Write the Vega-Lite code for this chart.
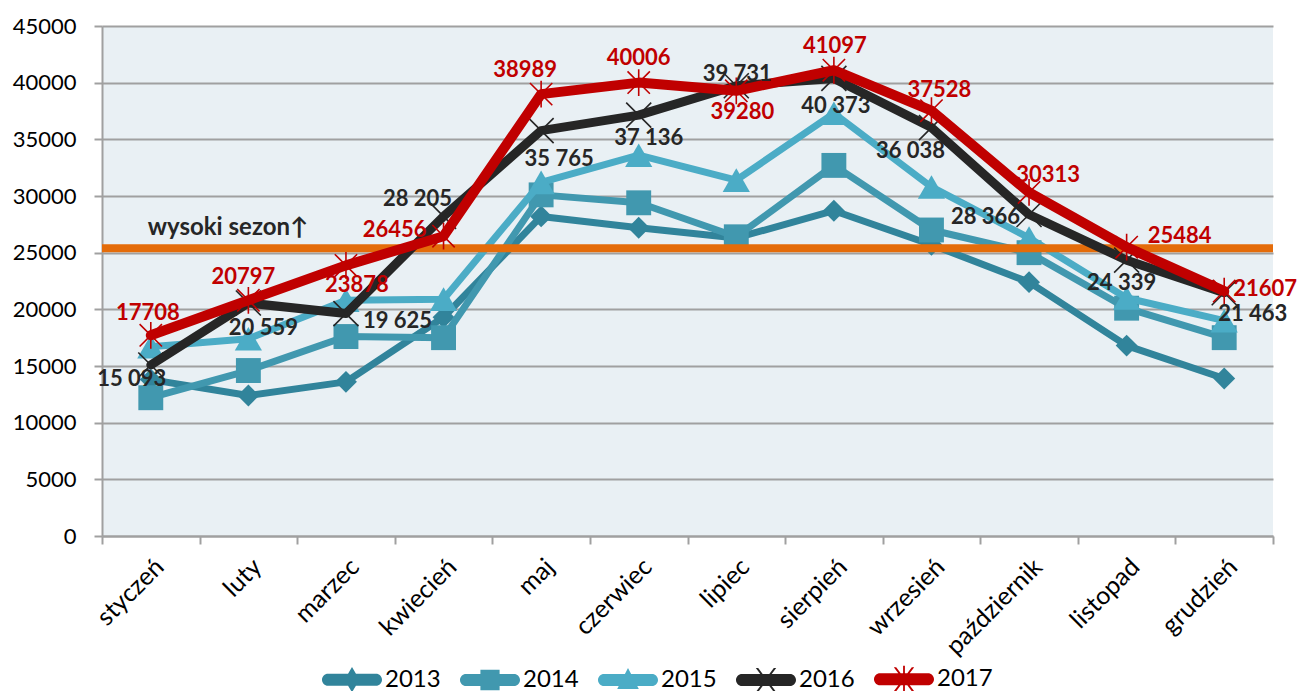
{
  "$schema": "https://vega.github.io/schema/vega-lite/v6.json",
  "width": 1171,
  "height": 510,
  "autosize": "none",
  "padding": {"left": 102, "top": 26, "right": 27, "bottom": 155},
  "background": "#ffffff",
  "data": {"values": [
    {"year": "2013", "month": "styczeń", "value": 13800},
    {"year": "2013", "month": "luty", "value": 12400},
    {"year": "2013", "month": "marzec", "value": 13600},
    {"year": "2013", "month": "kwiecień", "value": 19300},
    {"year": "2013", "month": "maj", "value": 28200},
    {"year": "2013", "month": "czerwiec", "value": 27200},
    {"year": "2013", "month": "lipiec", "value": 26300},
    {"year": "2013", "month": "sierpień", "value": 28700},
    {"year": "2013", "month": "wrzesień", "value": 25700},
    {"year": "2013", "month": "październik", "value": 22400},
    {"year": "2013", "month": "listopad", "value": 16800},
    {"year": "2013", "month": "grudzień", "value": 13900},
    {"year": "2014", "month": "styczeń", "value": 12200},
    {"year": "2014", "month": "luty", "value": 14600},
    {"year": "2014", "month": "marzec", "value": 17600},
    {"year": "2014", "month": "kwiecień", "value": 17500},
    {"year": "2014", "month": "maj", "value": 30100},
    {"year": "2014", "month": "czerwiec", "value": 29400},
    {"year": "2014", "month": "lipiec", "value": 26400},
    {"year": "2014", "month": "sierpień", "value": 32700},
    {"year": "2014", "month": "wrzesień", "value": 27000},
    {"year": "2014", "month": "październik", "value": 25000},
    {"year": "2014", "month": "listopad", "value": 20100},
    {"year": "2014", "month": "grudzień", "value": 17500},
    {"year": "2015", "month": "styczeń", "value": 16700},
    {"year": "2015", "month": "luty", "value": 17400},
    {"year": "2015", "month": "marzec", "value": 20800},
    {"year": "2015", "month": "kwiecień", "value": 20900},
    {"year": "2015", "month": "maj", "value": 31200},
    {"year": "2015", "month": "czerwiec", "value": 33600},
    {"year": "2015", "month": "lipiec", "value": 31400},
    {"year": "2015", "month": "sierpień", "value": 37300},
    {"year": "2015", "month": "wrzesień", "value": 30800},
    {"year": "2015", "month": "październik", "value": 26300},
    {"year": "2015", "month": "listopad", "value": 21000},
    {"year": "2015", "month": "grudzień", "value": 19000},
    {"year": "2016", "month": "styczeń", "value": 15093},
    {"year": "2016", "month": "luty", "value": 20559},
    {"year": "2016", "month": "marzec", "value": 19625},
    {"year": "2016", "month": "kwiecień", "value": 28205},
    {"year": "2016", "month": "maj", "value": 35765},
    {"year": "2016", "month": "czerwiec", "value": 37136},
    {"year": "2016", "month": "lipiec", "value": 39731},
    {"year": "2016", "month": "sierpień", "value": 40373},
    {"year": "2016", "month": "wrzesień", "value": 36038},
    {"year": "2016", "month": "październik", "value": 28366},
    {"year": "2016", "month": "listopad", "value": 24339},
    {"year": "2016", "month": "grudzień", "value": 21463},
    {"year": "2017", "month": "styczeń", "value": 17708},
    {"year": "2017", "month": "luty", "value": 20797},
    {"year": "2017", "month": "marzec", "value": 23878},
    {"year": "2017", "month": "kwiecień", "value": 26456},
    {"year": "2017", "month": "maj", "value": 38989},
    {"year": "2017", "month": "czerwiec", "value": 40006},
    {"year": "2017", "month": "lipiec", "value": 39280},
    {"year": "2017", "month": "sierpień", "value": 41097},
    {"year": "2017", "month": "wrzesień", "value": 37528},
    {"year": "2017", "month": "październik", "value": 30313},
    {"year": "2017", "month": "listopad", "value": 25484},
    {"year": "2017", "month": "grudzień", "value": 21607}
  ]},
  "layer": [
    {
      "encoding": {
        "x": {"field": "month", "type": "nominal", "title": null,
          "scale": {"type": "band", "domain": ["styczeń","luty","marzec","kwiecień","maj","czerwiec","lipiec","sierpień","wrzesień","październik","listopad","grudzień"], "paddingInner": 0, "paddingOuter": 0},
          "axis": {"tickBand": "extent", "labelAlign": "right", "labelBaseline": "top"}},
        "y": {"field": "value", "type": "quantitative", "title": null,
          "scale": {"domain": [0, 45000], "nice": false, "zero": true},
          "axis": {"values": [0,5000,10000,15000,20000,25000,30000,35000,40000,45000], "format": "d"}}
      },
      "layer": [
        {"transform": [{"filter": "datum.year=='2013'"}], "mark": {"type": "line", "color": "#31849B", "strokeWidth": 7, "strokeJoin": "round", "strokeCap": "round"}},
        {"transform": [{"filter": "datum.year=='2013'"}], "mark": {"type": "point", "shape": "diamond", "filled": true, "color": "#31849B", "size": 480, "opacity": 1}},
        {"transform": [{"filter": "datum.year=='2014'"}], "mark": {"type": "line", "color": "#4198AF", "strokeWidth": 7, "strokeJoin": "round", "strokeCap": "round"}},
        {"transform": [{"filter": "datum.year=='2014'"}], "mark": {"type": "point", "shape": "square", "filled": true, "color": "#4198AF", "size": 620, "opacity": 1}},
        {"transform": [{"filter": "datum.year=='2015'"}], "mark": {"type": "line", "color": "#4BACC6", "strokeWidth": 7, "strokeJoin": "round", "strokeCap": "round"}},
        {"transform": [{"filter": "datum.year=='2015'"}], "mark": {"type": "point", "shape": "triangle-up", "filled": true, "color": "#4BACC6", "size": 740, "opacity": 1}}
      ]
    },
    {
      "data": {"values": [{"threshold": 25400}]},
      "mark": {"type": "rule", "color": "#E46C0A", "strokeWidth": 8},
      "encoding": {
        "y": {"field": "threshold", "type": "quantitative", "title": null,
          "scale": {"domain": [0, 45000], "nice": false, "zero": true},
          "axis": {"values": [0,5000,10000,15000,20000,25000,30000,35000,40000,45000], "format": "d"}}
      }
    },
    {
      "encoding": {
        "x": {"field": "month", "type": "nominal", "title": null,
          "scale": {"type": "band", "domain": ["styczeń","luty","marzec","kwiecień","maj","czerwiec","lipiec","sierpień","wrzesień","październik","listopad","grudzień"], "paddingInner": 0, "paddingOuter": 0},
          "axis": {"tickBand": "extent", "labelAlign": "right", "labelBaseline": "top"}},
        "y": {"field": "value", "type": "quantitative", "title": null,
          "scale": {"domain": [0, 45000], "nice": false, "zero": true},
          "axis": {"values": [0,5000,10000,15000,20000,25000,30000,35000,40000,45000], "format": "d"}}
      },
      "layer": [
        {"transform": [{"filter": "datum.year=='2016'"}], "mark": {"type": "line", "color": "#262626", "strokeWidth": 9, "strokeJoin": "round", "strokeCap": "round"}},
        {"transform": [{"filter": "datum.year=='2016'"}], "mark": {"type": "point", "shape": "M-1,-1L1,1M-1,1L1,-1", "filled": false, "color": "#262626", "strokeWidth": 1.6, "size": 625, "opacity": 1}},
        {"transform": [{"filter": "datum.year=='2017'"}], "mark": {"type": "line", "color": "#C00000", "strokeWidth": 10, "strokeJoin": "round", "strokeCap": "round"}},
        {"transform": [{"filter": "datum.year=='2017'"}], "mark": {"type": "point", "shape": "M-1,-1L1,1M-1,1L1,-1M0,-1.2L0,1.2", "filled": false, "color": "#C00000", "strokeWidth": 1.6, "size": 500, "opacity": 1}},
        {
          "data": {"values": [{"month": "styczeń", "value": 25400, "label": "wysoki sezon↑"}]},
          "mark": {"type": "text", "align": "left", "baseline": "alphabetic", "dx": -3, "dy": -13, "fontSize": 24, "color": "#262626"},
          "encoding": {"text": {"field": "label"}}
        },
        {"transform": [{"filter": "datum.year=='2016'&&datum.month=='styczeń'"}], "mark": {"type": "text", "dx": -19, "dy": 14, "color": "#262626"}, "encoding": {"text": {"field": "value", "format": ",d"}}},
        {"transform": [{"filter": "datum.year=='2016'&&datum.month=='luty'"}], "mark": {"type": "text", "dx": 15, "dy": 25, "color": "#262626"}, "encoding": {"text": {"field": "value", "format": ",d"}}},
        {"transform": [{"filter": "datum.year=='2016'&&datum.month=='marzec'"}], "mark": {"type": "text", "align": "left", "dx": 17, "dy": 7, "color": "#262626"}, "encoding": {"text": {"field": "value", "format": ",d"}}},
        {"transform": [{"filter": "datum.year=='2016'&&datum.month=='kwiecień'"}], "mark": {"type": "text", "dx": -26, "dy": -17, "color": "#262626"}, "encoding": {"text": {"field": "value", "format": ",d"}}},
        {"transform": [{"filter": "datum.year=='2016'&&datum.month=='maj'"}], "mark": {"type": "text", "dx": 18, "dy": 28, "color": "#262626"}, "encoding": {"text": {"field": "value", "format": ",d"}}},
        {"transform": [{"filter": "datum.year=='2016'&&datum.month=='czerwiec'"}], "mark": {"type": "text", "dx": 10, "dy": 23, "color": "#262626"}, "encoding": {"text": {"field": "value", "format": ",d"}}},
        {"transform": [{"filter": "datum.year=='2016'&&datum.month=='lipiec'"}], "mark": {"type": "text", "dx": 1, "dy": -12, "color": "#262626"}, "encoding": {"text": {"field": "value", "format": ",d"}}},
        {"transform": [{"filter": "datum.year=='2016'&&datum.month=='sierpień'"}], "mark": {"type": "text", "dx": 2, "dy": 28, "color": "#262626"}, "encoding": {"text": {"field": "value", "format": ",d"}}},
        {"transform": [{"filter": "datum.year=='2016'&&datum.month=='wrzesień'"}], "mark": {"type": "text", "dx": -21, "dy": 23, "color": "#262626"}, "encoding": {"text": {"field": "value", "format": ",d"}}},
        {"transform": [{"filter": "datum.year=='2016'&&datum.month=='październik'"}], "mark": {"type": "text", "align": "right", "dx": -9, "dy": 2, "color": "#262626"}, "encoding": {"text": {"field": "value", "format": ",d"}}},
        {"transform": [{"filter": "datum.year=='2016'&&datum.month=='listopad'"}], "mark": {"type": "text", "dx": -5, "dy": 23, "color": "#262626"}, "encoding": {"text": {"field": "value", "format": ",d"}}},
        {"transform": [{"filter": "datum.year=='2016'&&datum.month=='grudzień'"}], "mark": {"type": "text", "align": "left", "dx": -6, "dy": 21, "color": "#262626"}, "encoding": {"text": {"field": "value", "format": ",d"}}},
        {"transform": [{"filter": "datum.year=='2017'&&datum.month=='styczeń'"}], "mark": {"type": "text", "dx": -3, "dy": -22, "color": "#C00000"}, "encoding": {"text": {"field": "value", "format": "d"}}},
        {"transform": [{"filter": "datum.year=='2017'&&datum.month=='luty'"}], "mark": {"type": "text", "dx": -5, "dy": -23, "color": "#C00000"}, "encoding": {"text": {"field": "value", "format": "d"}}},
        {"transform": [{"filter": "datum.year=='2017'&&datum.month=='marzec'"}], "mark": {"type": "text", "dx": 11, "dy": 20, "color": "#C00000"}, "encoding": {"text": {"field": "value", "format": "d"}}},
        {"transform": [{"filter": "datum.year=='2017'&&datum.month=='kwiecień'"}], "mark": {"type": "text", "align": "right", "dx": -17, "dy": -6, "color": "#C00000"}, "encoding": {"text": {"field": "value", "format": "d"}}},
        {"transform": [{"filter": "datum.year=='2017'&&datum.month=='maj'"}], "mark": {"type": "text", "dx": -16, "dy": -24, "color": "#C00000"}, "encoding": {"text": {"field": "value", "format": "d"}}},
        {"transform": [{"filter": "datum.year=='2017'&&datum.month=='czerwiec'"}], "mark": {"type": "text", "dx": 0, "dy": -25, "color": "#C00000"}, "encoding": {"text": {"field": "value", "format": "d"}}},
        {"transform": [{"filter": "datum.year=='2017'&&datum.month=='lipiec'"}], "mark": {"type": "text", "dx": 6, "dy": 21, "color": "#C00000"}, "encoding": {"text": {"field": "value", "format": "d"}}},
        {"transform": [{"filter": "datum.year=='2017'&&datum.month=='sierpień'"}], "mark": {"type": "text", "dx": 1, "dy": -24, "color": "#C00000"}, "encoding": {"text": {"field": "value", "format": "d"}}},
        {"transform": [{"filter": "datum.year=='2017'&&datum.month=='wrzesień'"}], "mark": {"type": "text", "dx": 8, "dy": -21, "color": "#C00000"}, "encoding": {"text": {"field": "value", "format": "d"}}},
        {"transform": [{"filter": "datum.year=='2017'&&datum.month=='październik'"}], "mark": {"type": "text", "dx": 19, "dy": -17, "color": "#C00000"}, "encoding": {"text": {"field": "value", "format": "d"}}},
        {"transform": [{"filter": "datum.year=='2017'&&datum.month=='listopad'"}], "mark": {"type": "text", "align": "left", "dx": 21, "dy": -11, "color": "#C00000"}, "encoding": {"text": {"field": "value", "format": "d"}}},
        {"transform": [{"filter": "datum.year=='2017'&&datum.month=='grudzień'"}], "mark": {"type": "text", "align": "left", "dx": 9, "dy": -2, "color": "#C00000"}, "encoding": {"text": {"field": "value", "format": "d"}}},
        {
          "transform": [{"filter": "false"}],
          "mark": {"type": "point", "filled": true, "opacity": 1},
          "encoding": {
            "color": {"field": "year", "type": "nominal",
              "scale": {"domain": ["2013","2014","2015","2016","2017"], "range": ["#31849B","#4198AF","#4BACC6","#262626","#C00000"]},
              "legend": {"title": null}},
            "shape": {"field": "year", "type": "nominal",
              "scale": {"domain": ["2013","2014","2015","2016","2017"], "range": [
                "M-0.8,-0.2L0.8,-0.2A0.2,0.2 0 0 1 0.8,0.2L-0.8,0.2A0.2,0.2 0 0 1 -0.8,-0.2ZM0,-0.42L0.25,0L0,0.42L-0.25,0Z",
                "M-0.8,-0.2L0.8,-0.2A0.2,0.2 0 0 1 0.8,0.2L-0.8,0.2A0.2,0.2 0 0 1 -0.8,-0.2ZM-0.32,-0.34L0.32,-0.34L0.32,0.34L-0.32,0.34Z",
                "M-0.8,-0.2L0.8,-0.2A0.2,0.2 0 0 1 0.8,0.2L-0.8,0.2A0.2,0.2 0 0 1 -0.8,-0.2ZM0,-0.4L0.36,0.3L-0.36,0.3Z",
                "M-0.8,-0.2L0.8,-0.2A0.2,0.2 0 0 1 0.8,0.2L-0.8,0.2A0.2,0.2 0 0 1 -0.8,-0.2ZM-0.34,-0.4L-0.26,-0.4L0.34,0.4L0.26,0.4ZM-0.34,0.4L0.26,-0.4L0.34,-0.4L-0.26,0.4Z",
                "M-0.8,-0.2L0.8,-0.2A0.2,0.2 0 0 1 0.8,0.2L-0.8,0.2A0.2,0.2 0 0 1 -0.8,-0.2ZM-0.34,-0.4L-0.26,-0.4L0.34,0.4L0.26,0.4ZM-0.34,0.4L0.26,-0.4L0.34,-0.4L-0.26,0.4ZM-0.03,-0.45L0.03,-0.45L0.03,0.45L-0.03,0.45Z"
              ]},
              "legend": {"title": null}}
          }
        }
      ]
    }
  ],
  "config": {
    "locale": {"number": {"decimal": ",", "thousands": " ", "grouping": [3], "currency": ["", " zł"]}},
    "font": "Lato",
    "view": {"fill": "#E9F0F4", "stroke": null},
    "axis": {"domainColor": "#A0A0A0", "domainWidth": 2, "tickColor": "#A0A0A0", "tickWidth": 2, "tickSize": 8,
      "labelFont": "Lato", "labelFontSize": 22, "labelColor": "#000000", "gridColor": "#A0A0A0", "gridWidth": 2},
    "axisX": {"grid": false, "labelAngle": -45, "labelPadding": 10, "labelFontSize": 25},
    "axisY": {"grid": true, "labelPadding": 18},
    "text": {"font": "Lato", "fontSize": 22, "fontWeight": "bold", "baseline": "middle", "align": "center"},
    "legend": {"orient": "none", "legendX": 220, "legendY": 623, "direction": "horizontal", "columns": 5,
      "symbolSize": 3600, "symbolStrokeWidth": 0, "labelFont": "Lato", "labelFontSize": 24, "labelColor": "#000000",
      "labelOffset": 3, "columnPadding": 19, "padding": 0}
  }
}
